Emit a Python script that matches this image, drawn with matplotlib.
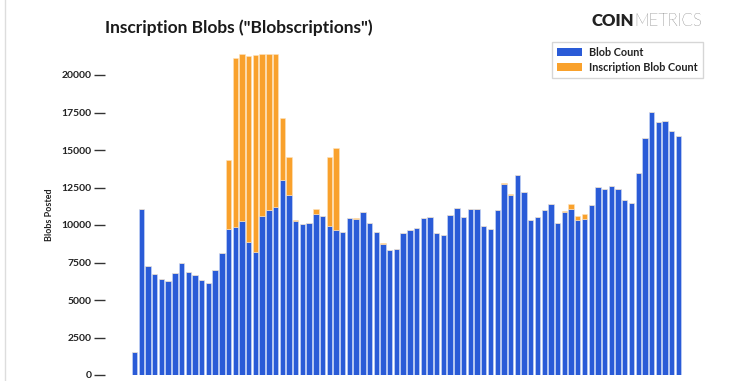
import numpy as np
import matplotlib
matplotlib.use("Agg")
import matplotlib.pyplot as plt
from matplotlib.patches import Patch

# weekly blob counts (82 bars)
blob_count = [1530, 11100, 7270, 6710, 6380, 6290, 6780, 7470, 6870, 6640,
              6310, 6110, 7000, 8130, 9710, 9870, 10290, 8890, 8220, 10620,
              11020, 11200, 13020, 12020, 10270, 10040, 10130, 10710, 10620, 9930,
              9640, 9510, 10440, 10400, 10870, 10130, 9560, 8730, 8310, 8380,
              9440, 9690, 9820, 10470, 10530, 9440, 9310, 10640, 11110, 10530,
              11040, 11040, 9930, 9710, 10980, 12730, 12000, 13330, 12180, 10310,
              10530, 11000, 11380, 10160, 10890, 11040, 10330, 10400, 11310, 12530,
              12420, 12620, 12380, 11670, 11470, 13470, 15780, 17560, 16840, 16960,
              16290, 15930]
# inscription blobs stacked on top
inscription_count = [0, 0, 0, 0, 0, 0, 0, 0, 0, 0,
                     0, 0, 0, 0, 4620, 11240, 11090, 12400, 13130, 10760,
                     10360, 10180, 4130, 2510, 60, 0, 0, 330, 0, 4580,
                     5510, 0, 50, 50, 0, 0, 0, 100, 0, 0,
                     0, 0, 0, 0, 0, 0, 0, 0, 0, 0,
                     0, 0, 0, 0, 0, 50, 70, 0, 0, 0,
                     0, 0, 0, 0, 70, 340, 270, 330, 0, 0,
                     0, 0, 0, 0, 0, 0, 0, 0, 0, 0,
                     0, 0]
y_ticks = [0, 2500, 5000, 7500, 10000, 12500, 15000, 17500, 20000]

blue = "#2a5bd7"
orange = "#f9a12c"

plt.rcParams["font.family"] = ["Lato", "DejaVu Sans"]

fig = plt.figure(figsize=(7.53, 3.81), dpi=100)
ax = fig.add_axes([105 / 753, 6 / 381, 595 / 753, 330 / 381])

x = np.arange(len(blob_count))
ax.bar(x, blob_count, width=0.8, color=blue, edgecolor="#cfdcf7", linewidth=0.4)
ax.bar(x, inscription_count, bottom=blob_count, width=0.8, color=orange,
       edgecolor="#fde3bd", linewidth=0.4)

ax.set_xlim(-4.4, 84.2)
ax.set_ylim(0, 22000)
ax.set_yticks(y_ticks)
ax.set_yticklabels([str(t) for t in y_ticks], fontsize=7.5, fontweight="bold",
                   color="#222222")
ax.tick_params(axis="y", length=8, width=1, color="#333333", pad=1.5)
ax.set_xticks([])
for s in ax.spines.values():
    s.set_visible(False)

fig.text(50 / 753, 1 - 215 / 381, "Blobs Posted", rotation=90, fontsize=6.5,
         fontweight="bold", color="#222222", ha="center", va="center")

fig.text(105 / 753, 1 - 28 / 381, 'Inscription Blobs ("Blobscriptions")',
         fontsize=12.5, fontweight="bold", color="#1a1a1a", ha="left", va="center")

t1 = fig.text(592 / 753, 1 - 21 / 381, "COIN", fontsize=12, fontweight="heavy",
              color="#222222", ha="left", va="center")
fig.canvas.draw()
bb = t1.get_window_extent()
fig.text(bb.x1 / 753, 1 - 21 / 381, "METRICS", fontsize=12, fontweight="light",
         color="#111111", ha="left", va="center")

handles = [Patch(facecolor=blue, label="Blob Count"),
           Patch(facecolor=orange, label="Inscription Blob Count")]
leg = fig.legend(handles=handles, loc="upper left",
                 bbox_to_anchor=(552 / 753, 1 - 42 / 381), fontsize=7.8,
                 frameon=True, fancybox=False, edgecolor="#cccccc",
                 handlelength=2.3, handleheight=0.7, borderpad=0.45,
                 labelspacing=0.35, handletextpad=0.7, borderaxespad=0)
for t in leg.get_texts():
    t.set_fontweight("bold")
    t.set_color("#222222")

# faint left border like the screenshot
fig.add_artist(plt.Line2D([5 / 753, 5 / 753], [0, 1], color="#dddddd", lw=1))

fig.savefig("out.png", dpi=100)
